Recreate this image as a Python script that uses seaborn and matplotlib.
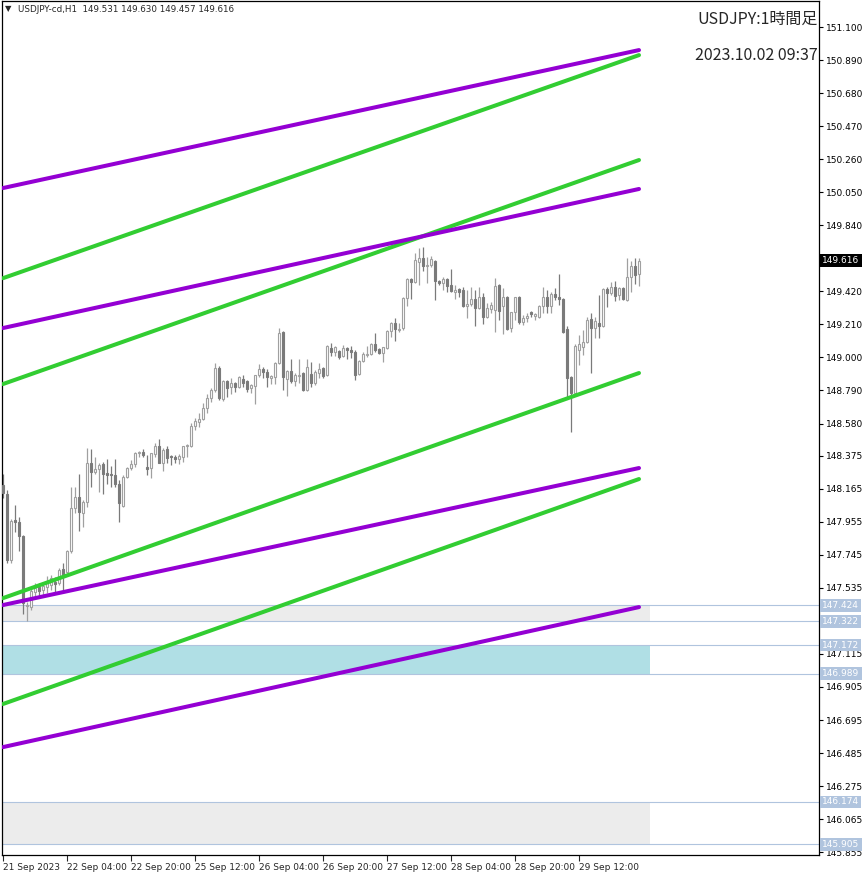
import seaborn as sns
import matplotlib.pyplot as plt
import pandas as pd
import numpy as np

# hourly USDJPY candles, 21 Sep 12:00 .. 2 Oct 03:00 (server time)
opens = [
    148.189, 148.132, 147.712, 147.966, 147.953, 147.865, 147.420, 147.413, 147.508, 147.540,
    147.521, 147.540, 147.553, 147.572, 147.566, 147.655, 147.636, 147.770, 148.042, 148.112,
    148.011, 148.080, 148.329, 148.271, 148.291, 148.322, 148.265, 148.259, 148.252, 148.195,
    148.055, 148.240, 148.297, 148.322, 148.392, 148.398, 148.303, 148.297, 148.386, 148.437,
    148.329, 148.418, 148.373, 148.367, 148.354, 148.367, 148.437, 148.437, 148.564, 148.589,
    148.608, 148.678, 148.742, 148.793, 148.932, 148.735, 148.850, 148.812, 148.837, 148.812,
    148.863, 148.850, 148.806, 148.818, 148.888, 148.926, 148.907, 148.869, 148.875, 148.964,
    149.161, 148.863, 148.913, 148.850, 148.882, 148.901, 148.793, 148.894, 148.837, 148.901,
    148.932, 148.888, 149.060, 149.035, 149.041, 149.009, 149.060, 149.047, 149.035, 148.894,
    148.977, 149.016, 149.022, 149.085, 149.054, 149.028, 149.060, 149.168, 149.219, 149.174,
    149.187, 149.378, 149.498, 149.479, 149.607, 149.632, 149.581, 149.587, 149.613, 149.486,
    149.473, 149.498, 149.460, 149.415, 149.435, 149.428, 149.327, 149.339, 149.371, 149.314,
    149.384, 149.257, 149.308, 149.301, 149.460, 149.327, 149.384, 149.187, 149.289, 149.384,
    149.225, 149.250, 149.289, 149.263, 149.257, 149.327, 149.384, 149.327, 149.403, 149.384,
    149.371, 149.181, 148.875, 148.774, 149.047, 149.066, 149.098, 149.244, 149.187, 149.219,
    149.200, 149.435, 149.409, 149.447, 149.397, 149.441, 149.365, 149.511, 149.581, 149.531,
]
highs = [
    148.259, 148.157, 147.973, 148.061, 147.985, 147.870, 147.445, 147.540, 147.566, 147.566,
    147.566, 147.611, 147.617, 147.604, 147.661, 147.693, 147.776, 148.176, 148.176, 148.259,
    148.093, 148.424, 148.418, 148.367, 148.329, 148.335, 148.354, 148.310, 148.354, 148.221,
    148.252, 148.303, 148.348, 148.398, 148.405, 148.418, 148.380, 148.392, 148.456, 148.481,
    148.424, 148.437, 148.380, 148.380, 148.386, 148.437, 148.449, 148.583, 148.615, 148.647,
    148.710, 148.767, 148.806, 148.964, 148.945, 148.856, 148.856, 148.869, 148.844, 148.882,
    148.888, 148.856, 148.831, 148.888, 148.958, 148.939, 148.926, 148.888, 148.970, 149.187,
    149.168, 148.920, 148.990, 148.901, 148.990, 148.907, 148.990, 148.970, 148.920, 148.964,
    148.939, 149.079, 149.092, 149.073, 149.047, 149.079, 149.066, 149.073, 149.047, 148.983,
    149.035, 149.073, 149.092, 149.155, 149.060, 149.066, 149.174, 149.225, 149.250, 149.219,
    149.384, 149.505, 149.505, 149.664, 149.696, 149.702, 149.638, 149.645, 149.619, 149.492,
    149.511, 149.505, 149.562, 149.460, 149.441, 149.447, 149.428, 149.447, 149.428, 149.447,
    149.409, 149.346, 149.352, 149.505, 149.467, 149.441, 149.390, 149.289, 149.384, 149.390,
    149.270, 149.282, 149.295, 149.282, 149.333, 149.447, 149.428, 149.415, 149.441, 149.530,
    149.378, 149.200, 148.882, 149.085, 149.142, 149.174, 149.257, 149.282, 149.257, 149.397,
    149.441, 149.447, 149.479, 149.486, 149.447, 149.447, 149.632, 149.613, 149.632, 149.630,
]
lows = [
    148.106, 147.693, 147.693, 147.890, 147.770, 147.369, 147.325, 147.394, 147.483, 147.483,
    147.489, 147.502, 147.521, 147.502, 147.553, 147.502, 147.630, 147.757, 148.011, 147.897,
    147.922, 148.049, 148.176, 148.259, 148.144, 148.132, 148.195, 148.176, 148.176, 147.953,
    148.049, 148.233, 148.284, 148.303, 148.367, 148.367, 148.252, 148.233, 148.367, 148.329,
    148.278, 148.329, 148.316, 148.329, 148.322, 148.335, 148.367, 148.430, 148.538, 148.557,
    148.602, 148.647, 148.716, 148.780, 148.729, 148.723, 148.748, 148.767, 148.780, 148.806,
    148.812, 148.780, 148.774, 148.704, 148.875, 148.869, 148.812, 148.831, 148.831, 148.960,
    148.793, 148.755, 148.837, 148.818, 148.837, 148.786, 148.786, 148.812, 148.825, 148.869,
    148.869, 148.882, 149.009, 149.009, 148.990, 149.003, 148.990, 148.996, 148.856, 148.888,
    148.970, 149.003, 149.016, 149.035, 149.022, 148.970, 149.054, 149.130, 149.104, 149.161,
    149.174, 149.327, 149.371, 149.473, 149.460, 149.549, 149.473, 149.575, 149.365, 149.460,
    149.428, 149.415, 149.415, 149.371, 149.384, 149.320, 149.250, 149.327, 149.200, 149.308,
    149.212, 149.250, 149.282, 149.161, 149.238, 149.149, 149.174, 149.161, 149.238, 149.212,
    149.206, 149.225, 149.257, 149.238, 149.250, 149.282, 149.282, 149.282, 149.365, 149.333,
    149.155, 148.748, 148.526, 148.761, 148.951, 149.016, 149.092, 148.901, 149.123, 149.123,
    149.193, 149.320, 149.397, 149.358, 149.365, 149.365, 149.358, 149.415, 149.467, 149.457,
]
closes = [
    148.138, 147.712, 147.960, 147.953, 147.865, 147.439, 147.426, 147.515, 147.534, 147.515,
    147.547, 147.566, 147.598, 147.559, 147.649, 147.617, 147.770, 148.042, 148.112, 148.017,
    148.080, 148.329, 148.271, 148.291, 148.316, 148.259, 148.252, 148.252, 148.195, 148.074,
    148.240, 148.297, 148.322, 148.392, 148.398, 148.380, 148.291, 148.392, 148.437, 148.329,
    148.411, 148.360, 148.367, 148.354, 148.373, 148.437, 148.443, 148.564, 148.596, 148.608,
    148.678, 148.742, 148.793, 148.932, 148.742, 148.850, 148.805, 148.837, 148.812, 148.875,
    148.837, 148.799, 148.825, 148.888, 148.926, 148.907, 148.875, 148.882, 148.964, 149.155,
    148.875, 148.913, 148.850, 148.888, 148.888, 148.793, 148.939, 148.837, 148.907, 148.926,
    148.882, 149.073, 149.035, 149.066, 149.003, 149.060, 149.047, 149.035, 148.888, 148.977,
    149.022, 149.022, 149.085, 149.047, 149.028, 149.066, 149.168, 149.219, 149.181, 149.181,
    149.378, 149.498, 149.479, 149.619, 149.632, 149.581, 149.587, 149.626, 149.486, 149.473,
    149.498, 149.454, 149.422, 149.428, 149.415, 149.327, 149.339, 149.371, 149.314, 149.384,
    149.257, 149.314, 149.333, 149.454, 149.295, 149.384, 149.181, 149.289, 149.384, 149.225,
    149.250, 149.263, 149.276, 149.276, 149.327, 149.384, 149.327, 149.403, 149.384, 149.371,
    149.161, 148.869, 148.774, 149.073, 149.085, 149.098, 149.238, 149.187, 149.231, 149.200,
    149.435, 149.409, 149.447, 149.390, 149.441, 149.371, 149.511, 149.581, 149.524, 149.616,
]

# time axis labels (every 16 bars)
xtick_bars = [0, 16, 32, 48, 64, 80, 96, 112, 128, 144]
xtick_labels = ['21 Sep 2023', '22 Sep 04:00', '22 Sep 20:00', '25 Sep 12:00', '26 Sep 04:00',
                '26 Sep 20:00', '27 Sep 12:00', '28 Sep 04:00', '28 Sep 20:00', '29 Sep 12:00']

ytick_values = [151.100, 150.890, 150.680, 150.470, 150.260, 150.050, 149.840, 149.420,
                149.210, 149.000, 148.790, 148.580, 148.375, 148.165, 147.955, 147.745,
                147.535, 147.115, 146.905, 146.695, 146.485, 146.275, 146.065, 145.855]

# trend channel lines: value at first bar and at last bar
line_names = ['g1', 'g2', 'g3', 'g4', 'p1', 'p2', 'p3', 'p4']
line_start = [149.504, 148.831, 147.470, 146.797, 150.077, 149.187, 147.426, 146.523]
line_end = [150.922, 150.255, 148.901, 148.227, 150.954, 150.071, 148.297, 147.413]

# horizontal levels and zones
levels = [147.424, 147.322, 147.172, 146.989, 146.174, 145.905]
zone_low = [147.322, 146.989, 145.905]
zone_high = [147.424, 147.172, 146.174]
zone_colors = ['#ececec', '#b0dfe5', '#ececec']

last_price = 149.616

sns.set_style('white')
plt.rcParams['font.family'] = ['DejaVu Sans']

fig = plt.figure(figsize=(8.66, 8.76), dpi=100)
ax = fig.add_axes([2 / 866, 21 / 876, 817 / 866, 854 / 876])

n = len(opens)
bars = np.arange(n)
o = np.array(opens); h = np.array(highs); l = np.array(lows); c = np.array(closes)
up = c >= o

# zones
for lo, hi, col in zip(zone_low, zone_high, zone_colors):
    ax.fill_between([-1, n + 1.75], lo, hi, color=col, lw=0, zorder=0)
for lv in levels:
    ax.axhline(lv, color='#b0c4de', lw=0.8, zorder=0.5)

# candles
ax.vlines(bars[up], l[up], h[up], color='#a0a0a0', lw=0.9, zorder=2)
ax.vlines(bars[~up], l[~up], h[~up], color='#7a7a7a', lw=0.9, zorder=2)
ax.bar(bars[up], c[up] - o[up], bottom=o[up], width=0.55, color='white',
       edgecolor='#a0a0a0', lw=0.8, zorder=3)
ax.bar(bars[~up], c[~up] - o[~up], bottom=o[~up], width=0.55, color='#7a7a7a',
       edgecolor='#7a7a7a', lw=0.8, zorder=3)

# channel lines
rows = []
for name, s, e in zip(line_names, line_start, line_end):
    rows.append({'bar': 0, 'price': s, 'line': name})
    rows.append({'bar': n - 1, 'price': e, 'line': name})
lines_df = pd.DataFrame(rows)
palette = {nm: ('#32cd32' if nm.startswith('g') else '#9400d3') for nm in line_names}
sns.lineplot(data=lines_df, x='bar', y='price', hue='line', hue_order=line_names,
             palette=palette, lw=2.9, legend=False, ax=ax, zorder=4)

ax.set_xlim(-0.25, 204)
ax.set_ylim(145.837, 151.266)
ax.set_xlabel('')
ax.set_ylabel('')

ax.yaxis.tick_right()
ax.set_yticks(ytick_values)
ax.set_yticklabels([f'{v:.3f}' for v in ytick_values])
ax.tick_params(axis='y', right=True, left=False, direction='out', length=3,
               width=0.8, pad=2, labelsize=6.5, colors='black')
ax.set_xticks(xtick_bars)
ax.set_xticklabels(xtick_labels)
ax.tick_params(axis='x', bottom=True, direction='out', length=4, width=0.8,
               pad=2, labelsize=6.5)
for lab in ax.get_xticklabels():
    lab.set_ha('left')

for sp in ax.spines.values():
    sp.set_color('black')
    sp.set_linewidth(0.9)

# price tags on the right
ytr = ax.get_yaxis_transform()
for lv in levels:
    ax.text(1.004, lv, f'{lv:.3f}', transform=ytr, fontsize=6.5, color='white',
            va='center', ha='left', clip_on=False, zorder=10,
            bbox=dict(facecolor='#b0c4de', edgecolor='none', pad=1.4))
ax.text(1.004, last_price, f'{last_price:.3f}', transform=ytr, fontsize=6.5, color='white',
        va='center', ha='left', clip_on=False, zorder=10,
        bbox=dict(facecolor='black', edgecolor='none', pad=1.4))

# header texts
fig.text(5 / 866, 1 - 9 / 876, '▼', fontsize=6, va='center', ha='left')
fig.text(18 / 866, 1 - 9 / 876, 'USDJPY-cd,H1  149.531 149.630 149.457 149.616',
         fontsize=6.3, va='center', ha='left')
fig.text(818 / 866, 1 - 19 / 876, 'USDJPY:1時間足', fontsize=11.5, va='center', ha='right',
         family=['Noto Sans CJK JP', 'DejaVu Sans'])
fig.text(818 / 866, 1 - 56 / 876, '2023.10.02 09:37', fontsize=11.5, va='center', ha='right',
         family=['Noto Sans CJK JP', 'DejaVu Sans'])

fig.savefig('out.png', dpi=100, facecolor='white')
